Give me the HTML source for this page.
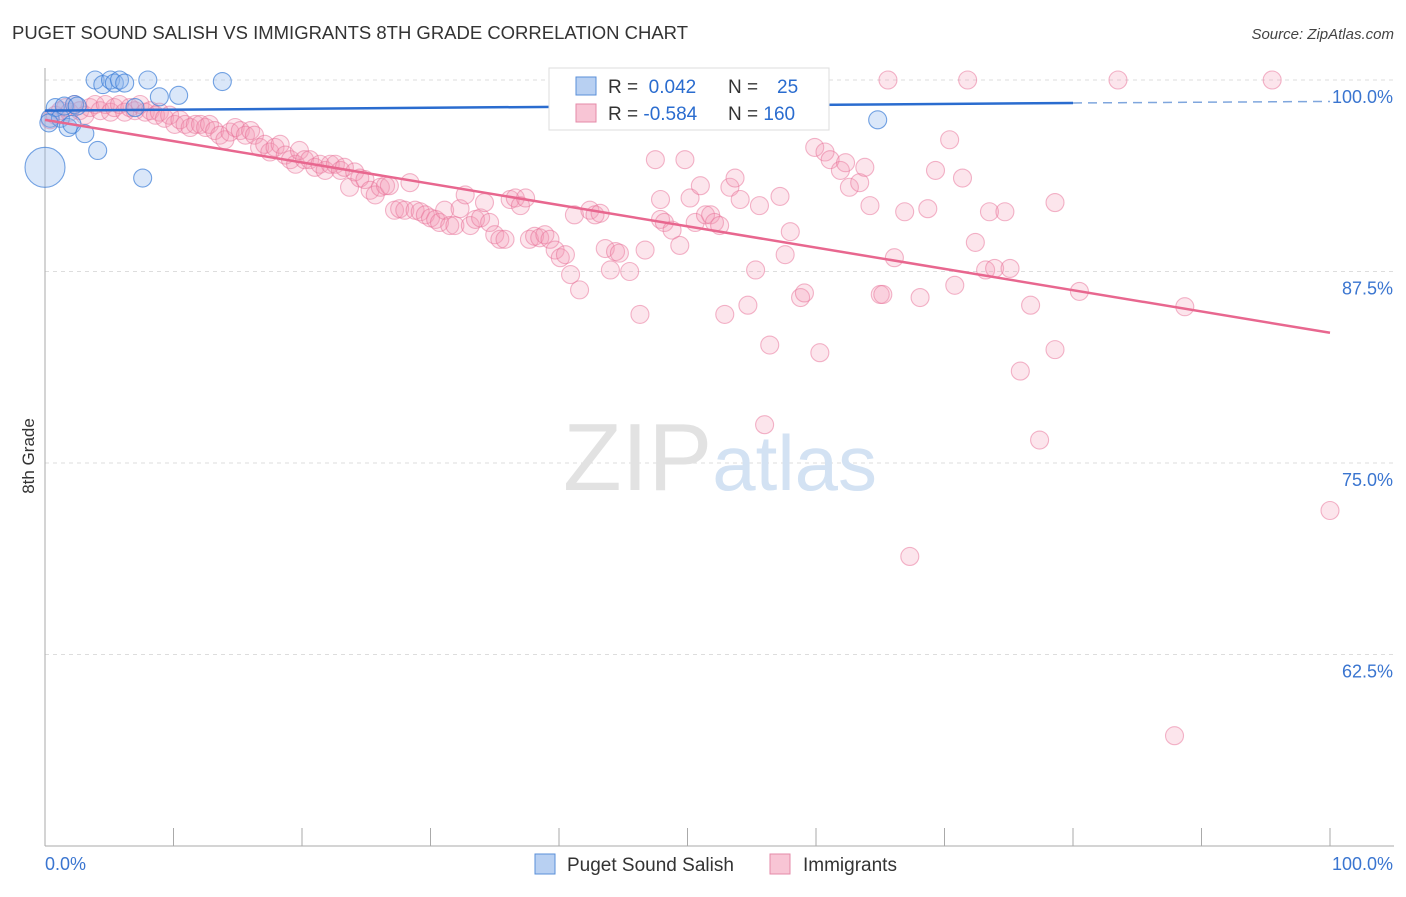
<!DOCTYPE html>
<html><head><meta charset="utf-8"><style>
body{margin:0;background:#fff;font-family:"Liberation Sans",sans-serif;}
svg text{font-family:"Liberation Sans",sans-serif;}
</style></head><body>
<svg id="chart" width="1406" height="892" xmlns="http://www.w3.org/2000/svg">
<text x="12" y="39" font-size="18" fill="#333" textLength="676" lengthAdjust="spacingAndGlyphs">PUGET SOUND SALISH VS IMMIGRANTS 8TH GRADE CORRELATION CHART</text>
<text x="1394" y="39" font-size="15" fill="#444" text-anchor="end" font-style="italic">Source: ZipAtlas.com</text>
<text x="34" y="456" font-size="17" fill="#333" text-anchor="middle" transform="rotate(-90 34 456)">8th Grade</text>
<g id="grid"></g>
<g id="axes"></g>
<text x="720" y="490" font-size="96" text-anchor="middle" fill="#e2e2e2" font-family="Liberation Serif"><tspan>ZIP</tspan><tspan fill="#d3e2f3" font-family="Liberation Sans" font-size="78">atlas</tspan></text>
<g id="pink"></g>
<g id="blue"></g>
<g id="trends"></g>
<g>
<rect x="549" y="68" width="280" height="62" fill="#fff" stroke="#ddd"/>
<rect x="576" y="77" width="20" height="18" fill="#b8d0f2" stroke="#5a8fd8"/>
<rect x="576" y="104" width="20" height="18" fill="#f8c5d5" stroke="#e58aa8"/>
<text x="608" y="93" font-size="19" fill="#333">R = <tspan fill="#2a6ccf">&#160;0.042</tspan><tspan x="728">N = </tspan><tspan fill="#2a6ccf" x="777">25</tspan></text>
<text x="608" y="120" font-size="19" fill="#333">R = <tspan fill="#2a6ccf">-0.584</tspan><tspan x="728">N = </tspan><tspan fill="#2a6ccf">160</tspan></text>
</g>
<g>
<rect x="535" y="854" width="20" height="20" fill="#b8d0f2" stroke="#5a8fd8"/>
<text x="567" y="871" font-size="19" fill="#333">Puget Sound Salish</text>
<rect x="770" y="854" width="20" height="20" fill="#f8c5d5" stroke="#e58aa8"/>
<text x="803" y="871" font-size="19" fill="#333">Immigrants</text>
</g>
</svg>
<script>
const yTicks=[100,87.5,75,62.5];
const yTickLabels=["100.0%","87.5%","75.0%","62.5%"];
const xTickLabels=["0.0%","100.0%"];
const salishX=[0,0.4,0.8,1.2,1.8,2.1,2.3,3.1,3.9,4.1,4.5,5.1,5.4,5.8,6.2,7.0,7.6,8.0,8.9,10.4,13.8,64.8,1.5,2.5,0.3];
const salishY=[94.3,97.5,98.2,97.5,96.9,97.1,98.4,96.5,100,95.4,99.7,100,99.8,100,99.8,98.2,93.6,100,98.9,99.0,99.9,97.4,98.3,98.3,97.2];
const salishR=[20,9,9,9,9,9,9,9,9,9,9,9,9,9,9,9,9,9,9,9,9,9,9,9,9];
const immX=[0.4,0.8,1.2,1.6,1.9,2.3,2.7,3.1,3.5,3.9,4.3,4.7,5.1,5.4,5.8,6.2,6.6,7.0,7.4,7.8,8.2,8.6,8.9,9.3,9.7,10.1,10.5,10.9,11.3,11.7,12.1,12.5,12.8,13.2,13.6,14.0,14.4,14.8,15.2,15.6,16.0,16.3,16.7,17.1,17.5,17.9,18.3,18.7,19.1,19.5,19.8,20.2,20.6,21.0,21.4,21.8,22.2,22.6,23.0,23.3,23.7,24.1,24.5,24.9,25.3,25.7,26.1,26.5,26.8,27.2,27.6,28.0,28.4,28.8,29.2,29.6,30.0,30.4,30.7,31.1,31.5,31.9,32.3,32.7,33.1,33.5,33.9,34.2,34.6,35.0,35.4,35.8,36.2,36.6,37.0,37.4,37.7,38.1,38.5,38.9,39.3,39.7,40.1,40.5,40.9,41.2,41.6,42.4,42.8,43.2,43.6,44.0,44.4,44.7,45.5,46.3,46.7,47.5,47.9,47.9,48.2,48.8,49.4,49.8,50.2,50.6,51.0,51.4,51.8,52.1,52.5,52.9,53.3,53.7,54.1,54.7,55.3,55.6,56.0,56.4,57.2,57.6,58.0,58.8,59.1,59.9,60.3,60.7,61.1,61.9,62.3,62.6,63.4,63.8,64.2,65.0,66.1,66.9,67.3,68.1,68.7,69.3,70.4,70.8,71.4,72.4,73.2,73.5,73.9,74.7,75.1,75.9,76.7,77.4,78.6,78.6,80.5,88.7,87.9,100,65.6,71.8,83.5,95.5,65.2];
const immY=[97.4,97.7,98.0,98.2,97.9,98.4,98.0,97.7,98.2,98.4,98.0,98.4,97.9,98.2,98.4,97.9,98.2,98.0,98.4,97.9,98.0,97.7,97.9,97.5,97.7,97.1,97.4,97.1,96.9,97.1,97.1,96.9,97.1,96.7,96.4,96.1,96.6,96.9,96.7,96.4,96.7,96.4,95.6,95.8,95.3,95.6,95.8,95.1,94.8,94.5,95.4,94.8,94.8,94.3,94.5,94.1,94.5,94.5,94.1,94.3,93.0,94.0,93.6,93.5,92.8,92.5,93.0,93.1,93.1,91.5,91.6,91.5,93.3,91.5,91.4,91.2,91.0,90.9,90.7,91.5,90.5,90.5,91.6,92.5,90.5,90.9,91.0,92.0,90.7,89.9,89.6,89.6,92.2,92.3,91.8,92.3,89.6,89.8,89.7,89.9,89.6,88.9,88.4,88.6,87.3,91.2,86.3,91.5,91.2,91.3,89.0,87.6,88.8,88.7,87.5,84.7,88.9,94.8,92.2,90.9,90.7,90.2,89.2,94.8,92.3,90.7,93.1,91.2,91.2,90.7,90.5,84.7,93.0,93.6,92.2,85.3,87.6,91.8,77.5,82.7,92.4,88.6,90.1,85.8,86.1,95.6,82.2,95.3,94.8,94.1,94.6,93.0,93.3,94.3,91.8,86.0,88.4,91.4,68.9,85.8,91.6,94.1,96.1,86.6,93.6,89.4,87.6,91.4,87.7,91.4,87.7,81.0,85.3,76.5,92.0,82.4,86.2,85.2,57.2,71.9,100,100,100,100,86.0];
const salishTrend=[98.0,98.5,98.6];
const immTrend=[97.4,83.5];
const X0=45,X1=1330,YT=80,YB=846;
const sx=v=>X0+(X1-X0)*v/100;
const sy=v=>YT+(100-v)*(YB-YT)/50;
const NS="http://www.w3.org/2000/svg";
function mk(tag,attrs,parent){const e=document.createElementNS(NS,tag);for(const k in attrs)e.setAttribute(k,attrs[k]);parent.appendChild(e);return e;}
const grid=document.getElementById('grid'),axes=document.getElementById('axes');
yTicks.forEach((t,i)=>{
 const l=mk('line',{x1:X0,x2:1394,y1:sy(t),y2:sy(t),stroke:'#ddd','stroke-dasharray':'4,4'},grid);
 
 
 const tx=mk('text',{x:1393,y:sy(t)+23,'font-size':18,fill:'#3a75d0','text-anchor':'end'},axes);
 tx.textContent=yTickLabels[i];
 
 
});
mk('line',{x1:X0,x2:X0,y1:68,y2:YB,stroke:'#aaa'},axes);
mk('line',{x1:X0,x2:1394,y1:YB,y2:YB,stroke:'#aaa'},axes);
for(let i=0;i<=10;i++){mk('line',{x1:sx(i*10),x2:sx(i*10),y1:828,y2:YB,stroke:'#aaa'},axes);}
[0,100].forEach((v,i)=>{const t=mk('text',{x:i?1393:45,y:870,'font-size':18,fill:'#3a75d0','text-anchor':i?'end':'start'},axes);
 t.textContent=xTickLabels[i];
 
 });
const pink=document.getElementById('pink');
immX.forEach((x,i)=>{const c=mk('circle',{cx:sx(x),cy:sy(immY[i]),r:9,fill:'rgba(244,150,180,0.25)',stroke:'rgba(232,110,150,0.5)','stroke-width':1.1},pink);
 
 });
const blue=document.getElementById('blue');
salishX.forEach((x,i)=>{const c=mk('circle',{cx:sx(x),cy:sy(salishY[i]),r:salishR[i],fill:'rgba(140,180,235,0.32)',stroke:'rgba(60,125,215,0.7)','stroke-width':1.1},blue);
 
 });
const tr=document.getElementById('trends');
const bl=mk('line',{x1:sx(0),y1:sy(salishTrend[0]),x2:sx(80),y2:sy(salishTrend[1]),stroke:'#2a6ccf','stroke-width':2.5},tr);


const bd=mk('line',{x1:sx(80),y1:sy(salishTrend[1]),x2:sx(100),y2:sy(salishTrend[2]),stroke:'#7fa6dd','stroke-width':1.5,'stroke-dasharray':'9,6'},tr);


const pl=mk('line',{x1:sx(0),y1:sy(immTrend[0]),x2:sx(100),y2:sy(immTrend[1]),stroke:'#e8678f','stroke-width':2.5},tr);


</script>
</body></html>
